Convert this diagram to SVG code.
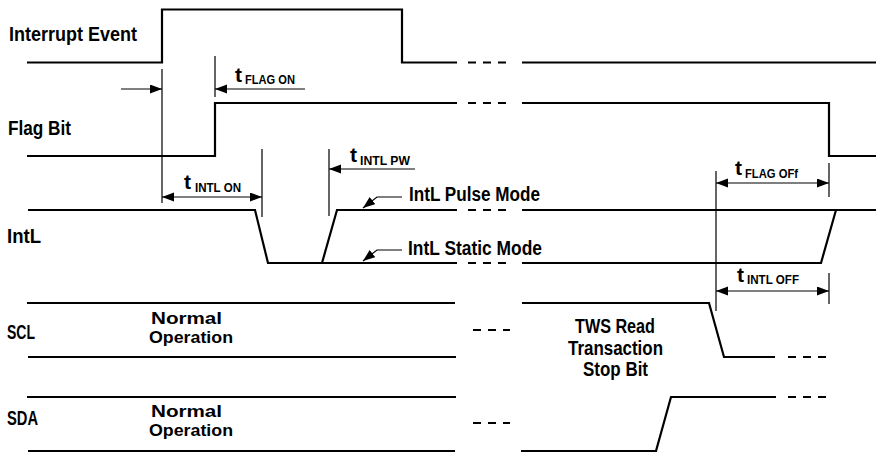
<svg xmlns="http://www.w3.org/2000/svg" width="876" height="452" viewBox="0 0 876 452">
<style>
.sig{fill:none;stroke:#000;stroke-width:2.2;stroke-linejoin:miter}
.dash{fill:none;stroke:#000;stroke-width:2.2;stroke-dasharray:8 7}
.tick{fill:none;stroke:#000;stroke-width:1.2}
.arr{fill:none;stroke:#000;stroke-width:1.2}
text{font-family:"Liberation Sans","DejaVu Sans",sans-serif;font-weight:bold;font-size:20px;fill:#000}
.n{font-size:16px}
.t{font-size:21px}
.sub{font-size:13px}
</style>
<defs>
<marker id="ah" markerUnits="userSpaceOnUse" markerWidth="12" markerHeight="10" refX="12" refY="4.5" orient="auto-start-reverse">
<path d="M0,0 L12,4.5 L0,9 z" fill="#000"/>
</marker>
</defs>
<rect width="876" height="452" fill="#fff"/>
<g id="interrupt">
<text x="9" y="41" textLength="128" lengthAdjust="spacingAndGlyphs">Interrupt Event</text>
<path class="sig" d="M27,62.5 H162 V9.5 H402 V62.5 H457 M522,62.5 H876"/>
<path class="dash" d="M468,62.5 H506"/>
</g>
<g id="flag">
<text x="8" y="135" textLength="63" lengthAdjust="spacingAndGlyphs">Flag Bit</text>
<path class="sig" d="M27,156 H215 V103 H457 M522,103 H829 V156 H876"/>
<path class="dash" d="M468,103 H506"/>
</g>
<g id="intl">
<text x="7" y="243" textLength="34" lengthAdjust="spacingAndGlyphs">IntL</text>
<path class="sig" d="M28,210 H255 L268,263 H457 M522,263 H821 L836,210 H876"/>
<path class="sig" d="M322,263 L337,210 H457 M522,210 H836"/>
<path class="dash" d="M468,210 H506 M468,263 H506"/>
<text x="409" y="201" textLength="131" lengthAdjust="spacingAndGlyphs">IntL Pulse Mode</text>
<text x="408" y="255" textLength="134" lengthAdjust="spacingAndGlyphs">IntL Static Mode</text>
</g>
<g id="scl">
<text x="7" y="339" textLength="28" lengthAdjust="spacingAndGlyphs">SCL</text>
<path class="sig" d="M27,303 H455 M28,357 H456 M522,303 H709 L724,357 H775"/>
<path class="dash" d="M473,330 H510 M788,357 H826"/>
<text class="n" x="151" y="324" textLength="71" lengthAdjust="spacingAndGlyphs">Normal</text>
<text class="n" x="149" y="343" textLength="84" lengthAdjust="spacingAndGlyphs">Operation</text>
<text x="575" y="333" textLength="80" lengthAdjust="spacingAndGlyphs">TWS Read</text>
<text x="568" y="355" textLength="95" lengthAdjust="spacingAndGlyphs">Transaction</text>
<text x="583" y="376" textLength="65" lengthAdjust="spacingAndGlyphs">Stop Bit</text>
</g>
<g id="sda">
<text x="7" y="425" textLength="31" lengthAdjust="spacingAndGlyphs">SDA</text>
<path class="sig" d="M27,397 H456 M28,451 H455 M521,451 H656 L671,397 H776"/>
<path class="dash" d="M473,423 H510 M788,397 H826"/>
<text class="n" x="151" y="417" textLength="71" lengthAdjust="spacingAndGlyphs">Normal</text>
<text class="n" x="149" y="436" textLength="84" lengthAdjust="spacingAndGlyphs">Operation</text>
</g>
<g id="connectors">
<path class="tick" d="M162,69 V203 M215,56 V97 M262,149 V217 M329,149 V216 M716,171 V311 M829,163 V197 M829,273 V304"/>
<line class="arr" x1="121" y1="89" x2="162" y2="89" marker-end="url(#ah)"/>
<line class="arr" x1="305" y1="89" x2="215" y2="89" marker-end="url(#ah)"/>
<line class="arr" x1="162" y1="197" x2="262" y2="197" marker-start="url(#ah)" marker-end="url(#ah)"/>
<line class="arr" x1="415" y1="169" x2="329" y2="169" marker-end="url(#ah)"/>
<line class="arr" x1="716" y1="183" x2="829" y2="183" marker-start="url(#ah)" marker-end="url(#ah)"/>
<line class="arr" x1="716" y1="291" x2="829" y2="291" marker-start="url(#ah)" marker-end="url(#ah)"/>
<path class="arr" d="M402,197 H377 L363,208" marker-end="url(#ah)"/>
<path class="arr" d="M402,250 H377 L363,261" marker-end="url(#ah)"/>
<text class="t" x="235" y="82">t</text><text class="sub" x="245" y="84" textLength="50" lengthAdjust="spacingAndGlyphs">FLAG ON</text>
<text class="t" x="184" y="189">t</text><text class="sub" x="195" y="192" textLength="46" lengthAdjust="spacingAndGlyphs">INTL ON</text>
<text class="t" x="350" y="162">t</text><text class="sub" x="360" y="165" textLength="50" lengthAdjust="spacingAndGlyphs">INTL PW</text>
<text class="t" x="735" y="175">t</text><text class="sub" x="745" y="178" textLength="53" lengthAdjust="spacingAndGlyphs">FLAG OFf</text>
<text class="t" x="737" y="282">t</text><text class="sub" x="747" y="284" textLength="52" lengthAdjust="spacingAndGlyphs">INTL OFF</text>
</g>
</svg>
